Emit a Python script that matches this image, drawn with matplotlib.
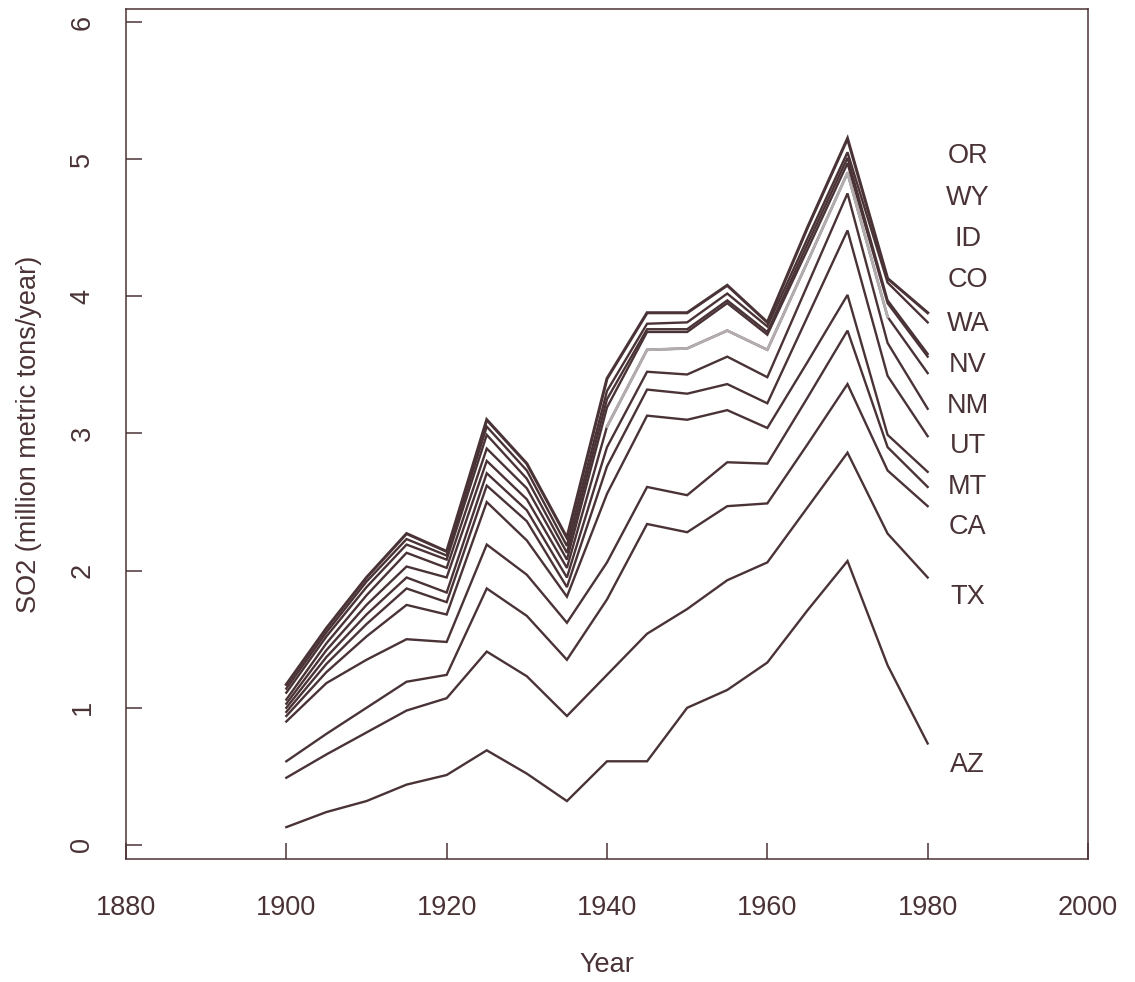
import numpy as np
import matplotlib
matplotlib.use("Agg")
import matplotlib.pyplot as plt

# Sulfur dioxide emissions by western state, million metric tons per year
years = [1900, 1905, 1910, 1915, 1920, 1925, 1930, 1935, 1940,
         1945, 1950, 1955, 1960, 1965, 1970, 1975, 1980]

states = ["AZ", "TX", "CA", "MT", "UT", "NM", "NV", "WA", "CO", "ID", "WY", "OR"]

so2_az = [0.13, 0.24, 0.32, 0.44, 0.51, 0.69, 0.52, 0.32, 0.61, 0.61, 1.00, 1.13, 1.33, 1.71, 2.07, 1.31, 0.74]
so2_tx = [0.36, 0.42, 0.50, 0.54, 0.56, 0.72, 0.71, 0.62, 0.63, 0.93, 0.72, 0.80, 0.73, 0.75, 0.79, 0.96, 1.21]
so2_ca = [0.12, 0.15, 0.18, 0.21, 0.17, 0.46, 0.44, 0.41, 0.55, 0.80, 0.56, 0.54, 0.43, 0.46, 0.50, 0.46, 0.52]
so2_mt = [0.29, 0.37, 0.35, 0.31, 0.24, 0.32, 0.30, 0.27, 0.27, 0.27, 0.27, 0.32, 0.29, 0.34, 0.39, 0.17, 0.14]
so2_ut = [0.04, 0.08, 0.17, 0.25, 0.20, 0.31, 0.25, 0.19, 0.50, 0.52, 0.55, 0.38, 0.26, 0.26, 0.26, 0.09, 0.11]
so2_nm = [0.03, 0.06, 0.09, 0.12, 0.09, 0.12, 0.14, 0.07, 0.20, 0.19, 0.19, 0.19, 0.18, 0.33, 0.47, 0.43, 0.26]
so2_nv = [0.03, 0.05, 0.07, 0.08, 0.07, 0.09, 0.08, 0.07, 0.14, 0.13, 0.14, 0.20, 0.19, 0.23, 0.27, 0.24, 0.20]
so2_wa = [0.03, 0.05, 0.07, 0.08, 0.11, 0.09, 0.08, 0.07, 0.15, 0.16, 0.19, 0.19, 0.20, 0.17, 0.15, 0.19, 0.26]
so2_co = [0.03, 0.05, 0.07, 0.10, 0.07, 0.09, 0.08, 0.06, 0.14, 0.13, 0.12, 0.20, 0.11, 0.09, 0.07, 0.10, 0.12]
so2_id = [0.05, 0.05, 0.06, 0.06, 0.06, 0.10, 0.07, 0.05, 0.06, 0.02, 0.02, 0.02, 0.02, 0.04, 0.04, 0.02, 0.02]
so2_wy = [0.03, 0.03, 0.04, 0.04, 0.03, 0.06, 0.06, 0.05, 0.06, 0.04, 0.05, 0.05, 0.04, 0.04, 0.04, 0.13, 0.23]
so2_or = [0.03, 0.03, 0.03, 0.04, 0.03, 0.05, 0.05, 0.06, 0.09, 0.08, 0.07, 0.06, 0.03, 0.08, 0.10, 0.03, 0.07]

x_ticks = [1880, 1900, 1920, 1940, 1960, 1980, 2000]
y_ticks = [0, 1, 2, 3, 4, 5, 6]

# label placement down the right margin (layout only)
label_x = 1985
label_y = [0.58, 1.81, 2.32, 2.61, 2.91, 3.20, 3.50, 3.80, 4.12, 4.42, 4.72, 5.02]

ink = "#4a3337"
faded = "#b3adaf"
plt.rcParams["font.family"] = ["Liberation Sans", "DejaVu Sans"]

emissions = np.array([so2_az, so2_tx, so2_ca, so2_mt, so2_ut, so2_nm,
                      so2_nv, so2_wa, so2_co, so2_id, so2_wy, so2_or])
running = np.cumsum(emissions, axis=0)
yr = np.array(years)

fig = plt.figure(figsize=(11.35, 9.82), dpi=100, facecolor="white")
ax = fig.add_axes([0.1110, 0.1253, 0.8476, 0.8656])

for i, st in enumerate(states):
    lw = 2.2 if st == "OR" else 1.7
    ax.plot(yr, running[i], color=ink, lw=lw, solid_joinstyle="miter")
    if st == "WA":
        seg = (yr >= 1940) & (yr <= 1975)
        ax.plot(yr[seg], running[i][seg], color=faded, lw=2.0)
    ax.text(label_x, label_y[i], st, ha="center", va="center",
            fontsize=19.5, color=ink)

ax.set_xlim(1880, 2000)
ax.set_ylim(-0.102, 6.095)
ax.set_xticks(x_ticks)
ax.set_yticks(y_ticks)
ax.set_xticklabels([str(t) for t in x_ticks])
ax.set_yticklabels([str(t) for t in y_ticks], rotation=90, va="center")

ax.tick_params(direction="in", length=11.5, width=1.1, color=ink,
               labelcolor=ink, labelsize=19.5)
ax.tick_params(axis="x", pad=26)
ax.tick_params(axis="y", pad=22)

for sp in ax.spines.values():
    sp.set_color(ink)
    sp.set_linewidth(1.1)

ax.set_xlabel("Year", fontsize=19.5, color=ink)
ax.set_ylabel("SO2 (million metric tons/year)", fontsize=19.5, color=ink)
ax.xaxis.set_label_coords(0.5, -0.11)
ax.yaxis.set_label_coords(-0.087, 0.5)

fig.savefig("out.png", dpi=100, facecolor="white")
